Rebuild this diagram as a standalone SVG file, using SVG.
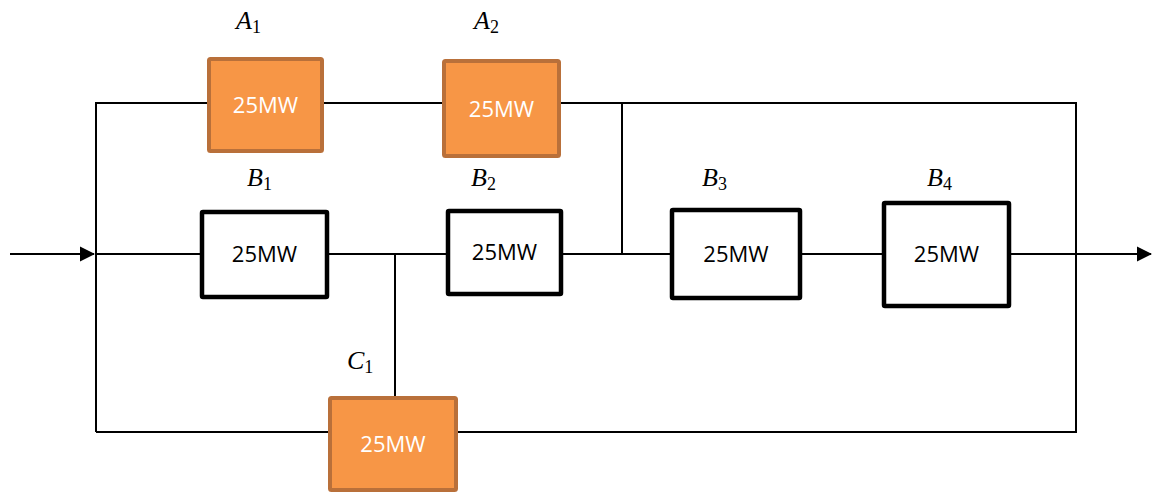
<svg xmlns="http://www.w3.org/2000/svg" width="1153" height="492" viewBox="0 0 1153 492">
<style>
.w{stroke:#000;stroke-width:2;fill:none}
.o rect{fill:#F79646;stroke:#B9703A;stroke-width:4}
.b rect{fill:#fff;stroke:#000;stroke-width:4.5}
.o text{fill:#fff;font-family:"Open Sans",sans-serif;font-size:22px;text-anchor:middle}
.b text{fill:#000;font-family:"Open Sans",sans-serif;font-size:22px;text-anchor:middle}
.lbl{font-family:"Liberation Serif",serif;font-size:26px;font-style:italic;fill:#000}
.lbl tspan{font-style:normal;font-size:18px}
</style>
<defs>
<marker id="ar" markerWidth="8" markerHeight="8" refX="7" refY="4" orient="auto" markerUnits="strokeWidth">
<path d="M0,0.3 L7.5,4 L0,7.7 Z" fill="#000"/>
</marker>
</defs>
<rect width="1153" height="492" fill="#fff"/>
<g id="connectors">
<path class="w" d="M96,432 V103 H209"/>
<path class="w" d="M323,103 H443"/>
<path class="w" d="M560,103 H1076 V432 H457"/>
<path class="w" d="M329,432 H96"/>
<path class="w" d="M622,103 V254"/>
<path class="w" d="M10,254 H94" marker-end="url(#ar)"/>
<path class="w" d="M96,254 H201"/>
<path class="w" d="M329,254 H447"/>
<path class="w" d="M395,254 V397"/>
<path class="w" d="M562,254 H671"/>
<path class="w" d="M801,254 H883"/>
<path class="w" d="M1011,254 H1151" marker-end="url(#ar)"/>
</g>
<g id="A1" class="o"><rect x="209" y="59" width="113" height="92" rx="1.5"/><text x="265.5" y="113">25MW</text></g>
<g id="A2" class="o"><rect x="444" y="61" width="115" height="95" rx="1.5"/><text x="501.5" y="117">25MW</text></g>
<g id="B1" class="b"><rect x="202" y="212" width="125" height="85" rx="1"/><text x="264.5" y="262">25MW</text></g>
<g id="B2" class="b"><rect x="448" y="211" width="113" height="83" rx="1"/><text x="504.5" y="260">25MW</text></g>
<g id="B3" class="b"><rect x="672" y="210" width="128" height="88" rx="1"/><text x="736" y="262">25MW</text></g>
<g id="B4" class="b"><rect x="884" y="203" width="125" height="103" rx="1"/><text x="946.5" y="262">25MW</text></g>
<g id="C1" class="o"><rect x="330" y="398" width="126" height="92" rx="1.5"/><text x="393" y="452">25MW</text></g>
<g id="labels">
<text class="lbl" x="236" y="29">A<tspan dy="4">1</tspan></text>
<text class="lbl" x="474" y="29">A<tspan dy="4">2</tspan></text>
<text class="lbl" x="247" y="186">B<tspan dy="4">1</tspan></text>
<text class="lbl" x="471" y="186">B<tspan dy="4">2</tspan></text>
<text class="lbl" x="702" y="186">B<tspan dy="4">3</tspan></text>
<text class="lbl" x="927" y="186">B<tspan dy="4">4</tspan></text>
<text class="lbl" x="347" y="369">C<tspan dy="4">1</tspan></text>
</g>
</svg>
